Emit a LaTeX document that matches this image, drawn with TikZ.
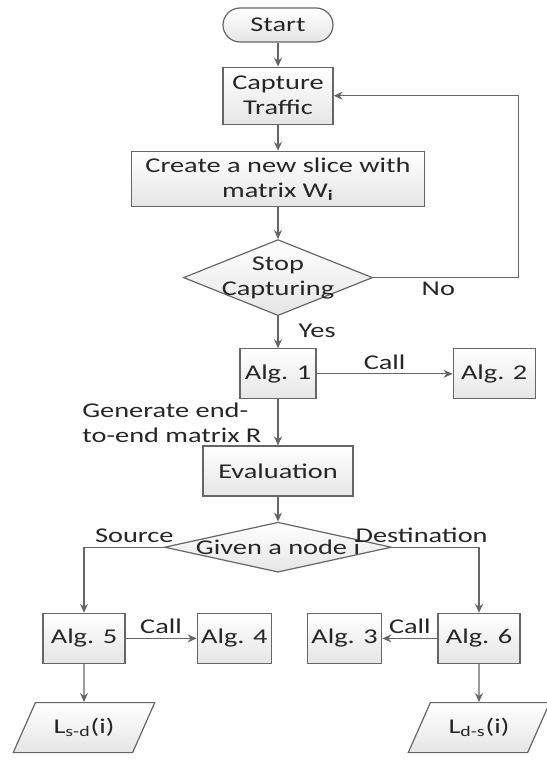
\documentclass[tikz,border=0pt]{standalone}
\usepackage{fontspec}
\setmainfont[FakeStretch=1.35]{Carlito}
\usetikzlibrary{shapes.geometric, arrows.meta, positioning}

\begin{document}
\begin{tikzpicture}[
    x=0.5pt, y=-0.5pt,
    font=\fontsize{10.5}{12.5}\selectfont,
    node distance=13.5pt and 35pt,
    base/.style={draw=black!60, line width=0.6pt, top color=white, bottom color=black!10, text=black!85, align=center, inner sep=2pt},
    block/.style={base, rectangle, minimum height=25pt},
    startstop/.style={base, rectangle, rounded corners=8.5pt, minimum width=55pt, minimum height=17pt},
    decision/.style={base, diamond, shape aspect=3, inner xsep=-20pt, inner ysep=0pt},
    io/.style={base, trapezium, trapezium left angle=53.5, trapezium right angle=126.5, trapezium stretches=true, minimum width=71pt, minimum height=25pt, inner sep=0pt},
    lbl/.style={text=black!85, inner sep=2pt},
    arr/.style={-{Stealth[length=4.5pt, width=4pt]}, draw=black!60, line width=0.6pt},
]
    \useasboundingbox (0,0) rectangle (546,760);

    \node[startstop] (start) at (278,25) {Start};
    \node[block, below=12pt of start, minimum width=55pt, minimum height=28.5pt] (capture) {Capture\\Traffic};
    \node[block, below=13pt of capture, minimum width=146.5pt, minimum height=27.5pt] (slice) {Create a new slice with\\matrix W\textsubscript{\textbf{i}}};
    \node[decision, below=16pt of slice, minimum width=94.5pt, minimum height=38pt] (stop) {Stop\\Capturing};
    \node[block, below=16pt of stop, minimum width=38pt] (alg1) {Alg. 1};
    \node[block, right=68pt of alg1, minimum width=41pt] (alg2) {Alg. 2};
    \node[block, below=23pt of alg1, minimum width=75pt] (eval) {Evaluation};
    \node[decision, below=12.5pt of eval, minimum width=113.5pt, minimum height=25pt] (given) {Given a node i};
    \node[block, below=20pt of given, xshift=-97pt, minimum width=41pt] (alg5) {Alg. 5};
    \node[block, right=35.5pt of alg5, minimum width=35pt] (alg4) {Alg. 4};
    \node[block, below=20pt of given, xshift=100.5pt, minimum width=41pt] (alg6) {Alg. 6};
    \node[block, left=27.5pt of alg6, minimum width=35pt] (alg3) {Alg. 3};
    \node[io, below=19pt of alg5] (lsd) {L\textsubscript{s-d}(i)};
    \node[io, below=19pt of alg6] (lds) {L\textsubscript{d-s}(i)};

    \draw[arr] (start) -- (capture);
    \draw[arr] (capture) -- (slice);
    \draw[arr] (slice) -- (stop);
    \draw[arr] (stop) -- node[lbl, right=8pt, pos=0.45] {Yes} (alg1);
    \draw[arr] (stop.east) -- node[lbl, below, pos=0.45] {No} ++(72.5pt,0) |- (capture.east);
    \draw[arr] (alg1) -- node[lbl, above] {Call} (alg2);
    \draw[arr] (alg1) -- node[lbl, left=6pt, align=left] {Generate end-\\to-end matrix R} (eval);
    \draw[arr] (eval) -- (given);
    \draw[arr] (given.west) -| node[lbl, above, pos=0.185] {Source} (alg5.north);
    \draw[arr] (given.east) -| node[lbl, above, pos=0.17] {Destination} (alg6.north);
    \draw[arr] (alg5) -- node[lbl, above] {Call} (alg4);
    \draw[arr] (alg6) -- node[lbl, above] {Call} (alg3);
    \draw[arr] (alg5) -- (lsd);
    \draw[arr] (alg6) -- (lds);
\end{tikzpicture}
\end{document}
